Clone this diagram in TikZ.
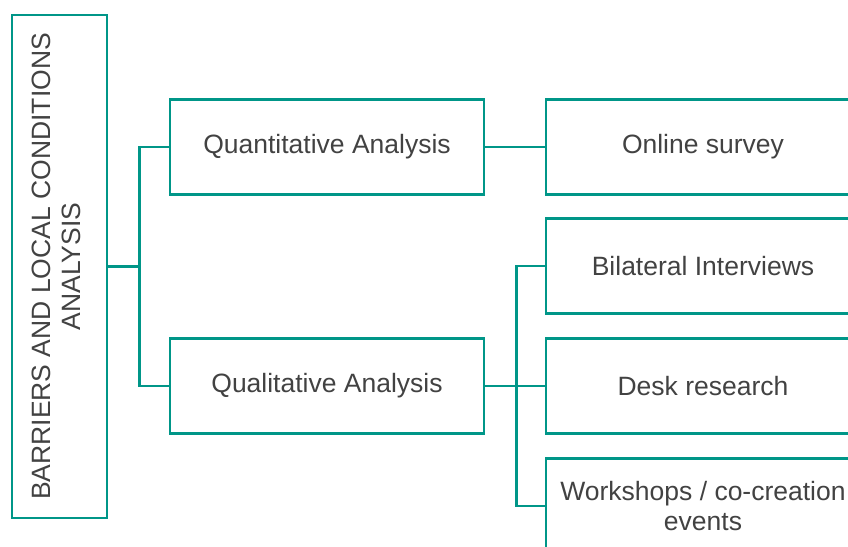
\documentclass[tikz,border=0pt]{standalone}
\usepackage{fontspec}
\setmainfont{Liberation Sans}
\definecolor{boxteal}{RGB}{0,150,136}
\definecolor{txtgray}{RGB}{66,66,66}

\begin{document}
\begin{tikzpicture}[x=1pt, y=-1pt, line width=2.6pt,
	nodes={draw=boxteal, text=txtgray, align=center,
	  font=\fontsize{26.5}{30}\selectfont,
	  minimum width=314pt, minimum height=95pt},
	grow'=right,
	edge from parent/.style={draw=boxteal, line width=2.8pt},
	edge from parent path={(\tikzparentnode.east) -- ++(31.5pt,0) |- (\tikzchildnode.west)},
  	level 1/.style={level distance=267.5pt, sibling distance=239pt},
  	level 2/.style={level distance=376pt, sibling distance=120pt}]
  \clip (0,0) rectangle (848,546);
  \node[minimum width=95pt, minimum height=503pt] (root) at (59.5,266.5)
    {\rotatebox{90}{\begin{tabular}{@{}c@{}}BARRIERS AND LOCAL CONDITIONS\\ANALYSIS\end{tabular}}}
    child {node (quant) {Quantitative Analysis}
      child {node (survey) {Online survey}}
    }
    child {node (qual) {Qualitative Analysis}
      child {node (interviews) {Bilateral Interviews}}
      child {node (desk) {Desk research}}
      child {node (workshops) {Workshops / co-creation\\events}}
    };
\end{tikzpicture}
\end{document}
